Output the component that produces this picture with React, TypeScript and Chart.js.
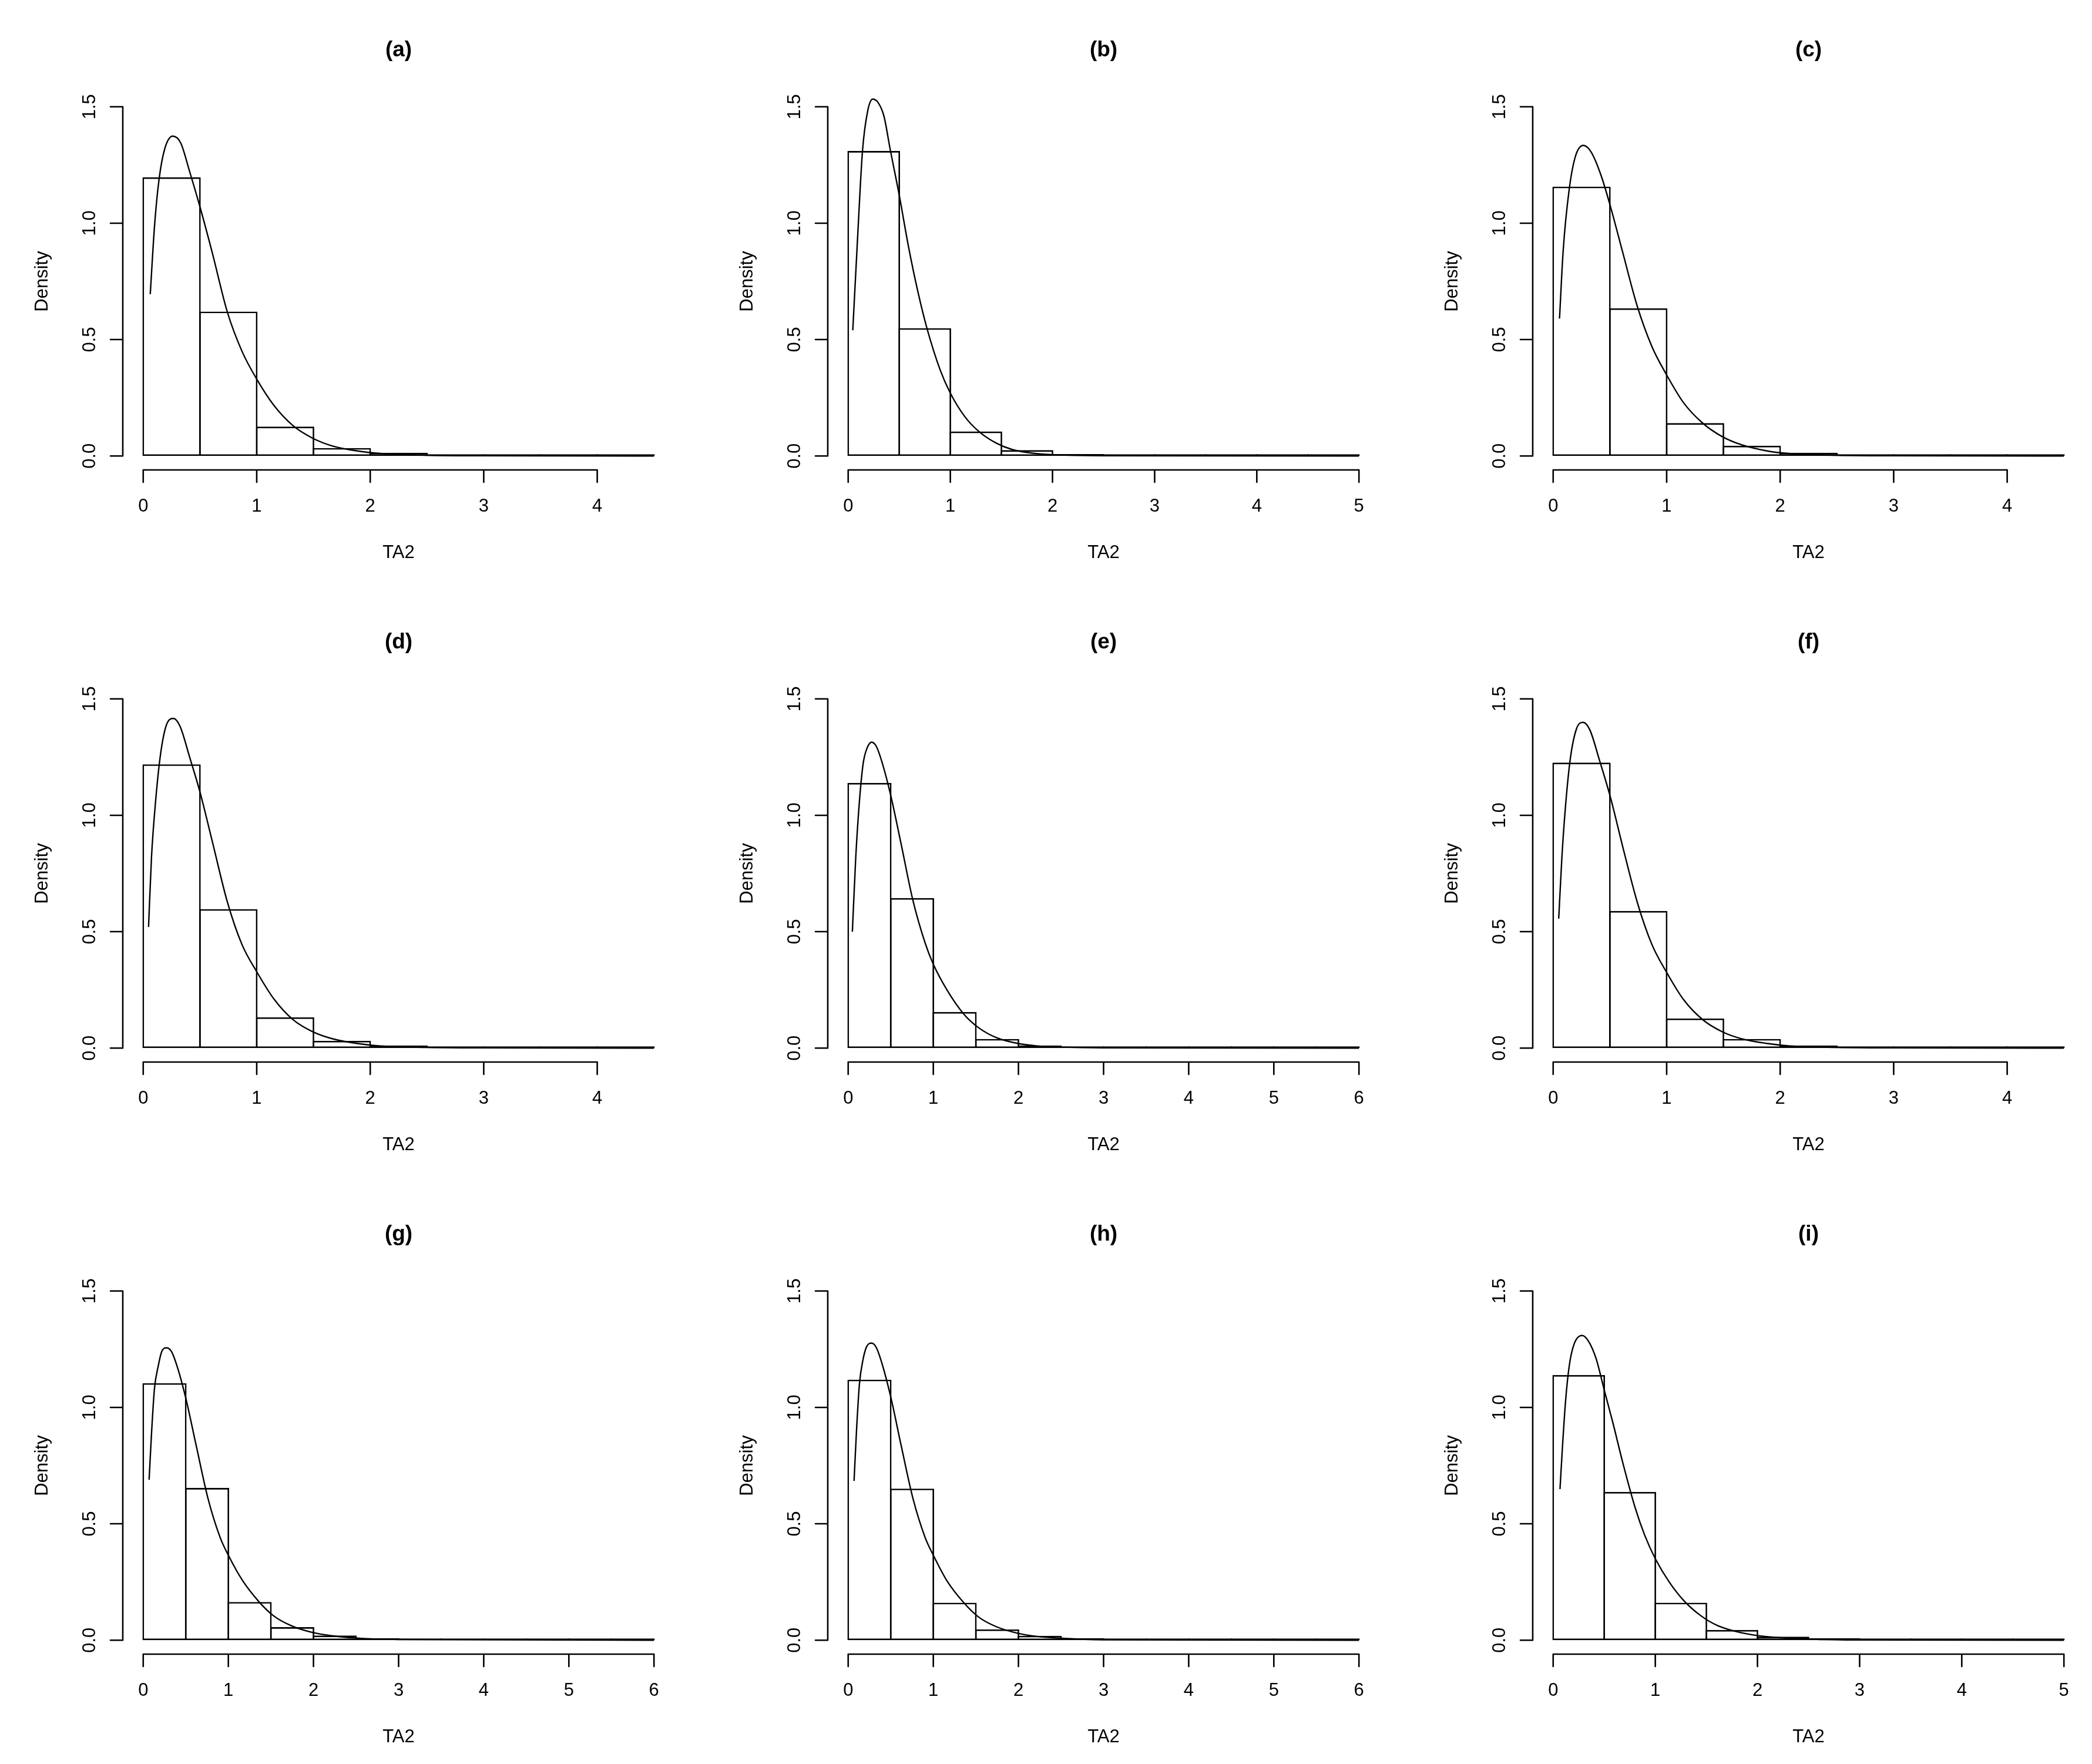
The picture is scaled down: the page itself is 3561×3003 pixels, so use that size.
import React, { useEffect, useRef } from "react";
import { Chart, registerables } from "chart.js";

Chart.register(...registerables);

const FONT = '"Liberation Sans", Arial, Helvetica, sans-serif';

// ---------- data ----------
const panelTitles = ["(a)", "(b)", "(c)", "(d)", "(e)", "(f)", "(g)", "(h)", "(i)"];
const xLabel = "TA2";
const yLabel = "Density";
const binWidth = 0.5;
const histMax = [4.5, 5, 4.5, 4.5, 6, 4.5, 6, 6, 5];

const xTicks4 = [0, 1, 2, 3, 4];
const xTicks5 = [0, 1, 2, 3, 4, 5];
const xTicks6 = [0, 1, 2, 3, 4, 5, 6];
const panelXTicks = [xTicks4, xTicks5, xTicks4, xTicks4, xTicks6, xTicks4, xTicks6, xTicks6, xTicks5];
const yTicks = [0, 0.5, 1.0, 1.5];
const yTickLabels = ["0.0", "0.5", "1.0", "1.5"];

const densA = [1.197, 0.62, 0.126, 0.034, 0.014, 0.004, 0.002, 0.0005, 0.0002];
const densB = [1.31, 0.549, 0.105, 0.025, 0.008, 0.002, 0.001, 0.0005, 0.0002, 0.0001];
const densC = [1.157, 0.634, 0.141, 0.044, 0.014, 0.004, 0.002, 0.0005, 0.0002];
const densD = [1.219, 0.597, 0.132, 0.031, 0.011, 0.004, 0.002, 0.0005, 0.0002];
const densE = [1.139, 0.644, 0.155, 0.039, 0.011, 0.004, 0.002, 0.001, 0.0005, 0.0002, 0.0001, 0.0001];
const densF = [1.226, 0.589, 0.127, 0.039, 0.011, 0.004, 0.002, 0.0005, 0.0002];
const densG = [1.104, 0.654, 0.164, 0.056, 0.02, 0.009, 0.003, 0.002, 0.001, 0.0005, 0.0002, 0.0001];
const densH = [1.119, 0.651, 0.161, 0.046, 0.019, 0.009, 0.003, 0.002, 0.001, 0.0005, 0.0002, 0.0001];
const densI = [1.139, 0.637, 0.161, 0.044, 0.015, 0.008, 0.003, 0.001, 0.0005, 0.0002];

const curveA: [number, number][] = [
  [0.062, 0.695], [0.1, 0.99], [0.14, 1.19], [0.19, 1.32], [0.26, 1.374], [0.33, 1.345],
  [0.41, 1.22], [0.5, 1.07], [0.61, 0.87], [0.74, 0.62], [0.87, 0.45], [1.0, 0.33],
  [1.15, 0.218], [1.32, 0.13], [1.49, 0.077], [1.66, 0.044], [1.88, 0.022], [2.09, 0.011],
  [2.5, 0.003], [3.0, 0.001], [4.5, 0],
];
const curveB: [number, number][] = [
  [0.045, 0.54], [0.09, 0.92], [0.14, 1.31], [0.19, 1.48], [0.24, 1.533], [0.29, 1.52],
  [0.35, 1.46], [0.41, 1.32], [0.5, 1.12], [0.59, 0.9], [0.68, 0.71], [0.77, 0.55],
  [0.9, 0.37], [1.0, 0.27], [1.14, 0.17], [1.28, 0.105], [1.45, 0.055], [1.61, 0.027],
  [1.85, 0.01], [2.09, 0.004], [2.5, 0.001], [5.0, 0],
];
const curveC: [number, number][] = [
  [0.056, 0.59], [0.088, 0.88], [0.14, 1.14], [0.195, 1.285], [0.266, 1.334], [0.334, 1.306],
  [0.42, 1.208], [0.5, 1.08], [0.61, 0.88], [0.74, 0.645], [0.87, 0.47], [1.0, 0.348],
  [1.15, 0.228], [1.32, 0.14], [1.49, 0.083], [1.66, 0.048], [1.88, 0.022], [2.09, 0.01],
  [2.5, 0.003], [3.0, 0.001], [4.5, 0],
];
const curveD: [number, number][] = [
  [0.047, 0.52], [0.073, 0.82], [0.109, 1.06], [0.152, 1.26], [0.201, 1.383], [0.264, 1.416],
  [0.324, 1.383], [0.409, 1.25], [0.5, 1.1], [0.61, 0.885], [0.74, 0.63], [0.87, 0.445],
  [1.0, 0.328], [1.15, 0.212], [1.32, 0.122], [1.49, 0.071], [1.66, 0.041], [1.88, 0.02],
  [2.09, 0.009], [2.5, 0.003], [3.0, 0.001], [4.5, 0],
];
const curveE: [number, number][] = [
  [0.049, 0.5], [0.089, 0.82], [0.132, 1.06], [0.175, 1.22], [0.218, 1.285], [0.275, 1.314],
  [0.332, 1.295], [0.404, 1.22], [0.5, 1.085], [0.62, 0.88], [0.76, 0.635], [0.905, 0.45],
  [1.0, 0.36], [1.16, 0.25], [1.36, 0.145], [1.53, 0.088], [1.74, 0.045], [1.99, 0.02],
  [2.22, 0.009], [2.51, 0.004], [3.0, 0.001], [6.0, 0],
];
const curveF: [number, number][] = [
  [0.049, 0.556], [0.077, 0.82], [0.109, 1.04], [0.152, 1.246], [0.206, 1.372], [0.264, 1.399],
  [0.324, 1.366], [0.409, 1.235], [0.506, 1.075], [0.613, 0.865], [0.742, 0.625], [0.87, 0.445],
  [1.0, 0.325], [1.149, 0.208], [1.32, 0.121], [1.49, 0.07], [1.66, 0.04], [1.88, 0.02],
  [2.09, 0.009], [2.5, 0.003], [3.0, 0.001], [4.5, 0],
];
const curveG: [number, number][] = [
  [0.069, 0.689], [0.097, 0.884], [0.132, 1.08], [0.175, 1.175], [0.218, 1.24], [0.275, 1.256],
  [0.332, 1.24], [0.404, 1.17], [0.5, 1.04], [0.62, 0.84], [0.76, 0.61], [0.905, 0.44],
  [1.0, 0.365], [1.16, 0.26], [1.36, 0.165], [1.53, 0.105], [1.74, 0.062], [1.99, 0.033],
  [2.22, 0.019], [2.51, 0.009], [3.0, 0.003], [6.0, 0],
];
const curveH: [number, number][] = [
  [0.069, 0.684], [0.097, 0.895], [0.132, 1.1], [0.175, 1.207], [0.218, 1.262], [0.275, 1.276],
  [0.332, 1.256], [0.404, 1.18], [0.5, 1.045], [0.62, 0.84], [0.76, 0.61], [0.905, 0.44],
  [1.0, 0.365], [1.16, 0.255], [1.36, 0.16], [1.53, 0.1], [1.74, 0.058], [1.99, 0.03],
  [2.22, 0.016], [2.51, 0.008], [3.0, 0.002], [6.0, 0],
];
const curveI: [number, number][] = [
  [0.067, 0.649], [0.091, 0.83], [0.122, 1.03], [0.158, 1.18], [0.205, 1.272], [0.284, 1.309],
  [0.348, 1.283], [0.42, 1.21], [0.5, 1.075], [0.587, 0.93], [0.683, 0.76], [0.802, 0.57],
  [0.897, 0.45], [1.0, 0.35], [1.136, 0.25], [1.279, 0.17], [1.446, 0.105], [1.613, 0.062],
  [1.852, 0.031], [2.09, 0.015], [2.5, 0.005], [3.0, 0.001], [5.0, 0],
];

const panelDens = [densA, densB, densC, densD, densE, densF, densG, densH, densI];
const panelCurves = [curveA, curveB, curveC, curveD, curveE, curveF, curveG, curveH, curveI];

// ---------- layout (panel-local pixels) ----------
const PANEL_W = 1187;
const PANEL_H = 1008;
const COL_STEP = 1200;
const ROW_STEP = 1008;
const PLOT_LEFT = 209;
const PLOT_RIGHT = 1148;
const PLOT_TOP = 158;
const PLOT_BOTTOM = 800;
const Y_MIN = -0.06;
const Y_MAX = 1.56;
const LINE_W = 2.6;
const TICK_LEN = 21;

function makeAxesPlugin(index: number) {
  return {
    id: "rAxes" + index,
    afterDraw(chart: any) {
      const ctx = chart.ctx as CanvasRenderingContext2D;
      const xs = chart.scales.x;
      const ys = chart.scales.y;
      const area = chart.chartArea;
      const xt = panelXTicks[index];
      ctx.save();
      ctx.strokeStyle = "#000";
      ctx.fillStyle = "#000";
      ctx.lineWidth = LINE_W;
      ctx.lineCap = "round";

      // y axis
      const ax = area.left;
      const yA = ys.getPixelForValue(yTicks[0]);
      const yB = ys.getPixelForValue(yTicks[yTicks.length - 1]);
      ctx.beginPath();
      ctx.moveTo(ax, yA);
      ctx.lineTo(ax, yB);
      yTicks.forEach((v) => {
        const p = ys.getPixelForValue(v);
        ctx.moveTo(ax, p);
        ctx.lineTo(ax - TICK_LEN, p);
      });
      // x axis
      const ay = area.bottom;
      const xA = xs.getPixelForValue(xt[0]);
      const xB = xs.getPixelForValue(xt[xt.length - 1]);
      ctx.moveTo(xA, ay);
      ctx.lineTo(xB, ay);
      xt.forEach((v) => {
        const p = xs.getPixelForValue(v);
        ctx.moveTo(p, ay);
        ctx.lineTo(p, ay + TICK_LEN);
      });
      ctx.stroke();

      // x tick labels
      ctx.font = `31px ${FONT}`;
      ctx.textAlign = "center";
      ctx.textBaseline = "alphabetic";
      xt.forEach((v) => {
        ctx.fillText(String(v), xs.getPixelForValue(v), ay + 71);
      });
      // x label
      const cx = (area.left + area.right) / 2;
      ctx.fillText(xLabel, cx, ay + 150);

      // y tick labels (rotated)
      yTicks.forEach((v, k) => {
        const p = ys.getPixelForValue(v);
        ctx.save();
        ctx.translate(ax - 47, p);
        ctx.rotate(-Math.PI / 2);
        ctx.fillText(yTickLabels[k], 0, 0);
        ctx.restore();
      });
      // y label
      const cy = (area.top + area.bottom) / 2;
      ctx.save();
      ctx.translate(ax - 128, cy);
      ctx.rotate(-Math.PI / 2);
      ctx.fillText(yLabel, 0, 0);
      ctx.restore();

      // title
      ctx.font = `bold 37px ${FONT}`;
      ctx.fillText(panelTitles[index], cx, area.top - 62);
      ctx.restore();
    },
  };
}

function Panel({ index }: { index: number }) {
  const ref = useRef<HTMLCanvasElement | null>(null);
  useEffect(() => {
    const canvas = ref.current;
    if (!canvas) return;
    const xmax = histMax[index];
    const pad = 0.04 * xmax;
    const plotW = PLOT_RIGHT - PLOT_LEFT;
    const binPx = (binWidth * plotW) / (xmax + 2 * pad);
    const barPct = 1 + LINE_W / binPx;
    const dens = panelDens[index];
    const curve = panelCurves[index];
    const xt = panelXTicks[index];
    const chart = new Chart(canvas, {
      type: "bar",
      data: {
        datasets: [
          {
            type: "line",
            data: curve.map(([x, y]) => ({ x, y })),
            borderColor: "#000",
            borderWidth: 2.4,
            pointRadius: 0,
            cubicInterpolationMode: "monotone",
            fill: false,
            order: 0,
          } as any,
          {
            type: "bar",
            data: dens.map((d, k) => ({ x: binWidth * (k + 0.5), y: d })),
            backgroundColor: "rgba(0,0,0,0)",
            borderColor: "#000",
            borderWidth: LINE_W,
            borderSkipped: false,
            barPercentage: barPct,
            categoryPercentage: 1,
            minBarLength: 3,
            order: 1,
          } as any,
        ],
      },
      options: {
        responsive: false,
        animation: false,
        devicePixelRatio: 1,
        events: [],
        layout: {
          padding: {
            left: PLOT_LEFT,
            top: PLOT_TOP,
            right: PANEL_W - PLOT_RIGHT,
            bottom: PANEL_H - PLOT_BOTTOM,
          },
        },
        plugins: {
          legend: { display: false },
          tooltip: { enabled: false },
          title: { display: false },
        },
        scales: {
          x: {
            type: "linear",
            display: false,
            min: -pad,
            max: xmax + pad,
            offset: false,
            afterBuildTicks: (scale: any) => {
              scale.ticks = xt.map((v) => ({ value: v }));
            },
          },
          y: {
            type: "linear",
            display: false,
            min: Y_MIN,
            max: Y_MAX,
            afterBuildTicks: (scale: any) => {
              scale.ticks = yTicks.map((v) => ({ value: v }));
            },
          },
        },
      } as any,
      plugins: [makeAxesPlugin(index)],
    });
    return () => chart.destroy();
  }, [index]);

  const col = index % 3;
  const row = Math.floor(index / 3);
  return (
    <canvas
      ref={ref}
      width={PANEL_W}
      height={PANEL_H}
      style={{
        position: "absolute",
        left: col * COL_STEP,
        top: row * ROW_STEP,
        width: PANEL_W,
        height: PANEL_H,
      }}
    />
  );
}

export default function App() {
  return (
    <div
      style={{
        position: "absolute",
        left: 0,
        top: 0,
        width: 3561,
        height: 3003,
        overflow: "hidden",
        background: "#fff",
      }}
    >
      {panelTitles.map((_, i) => (
        <Panel key={i} index={i} />
      ))}
    </div>
  );
}
